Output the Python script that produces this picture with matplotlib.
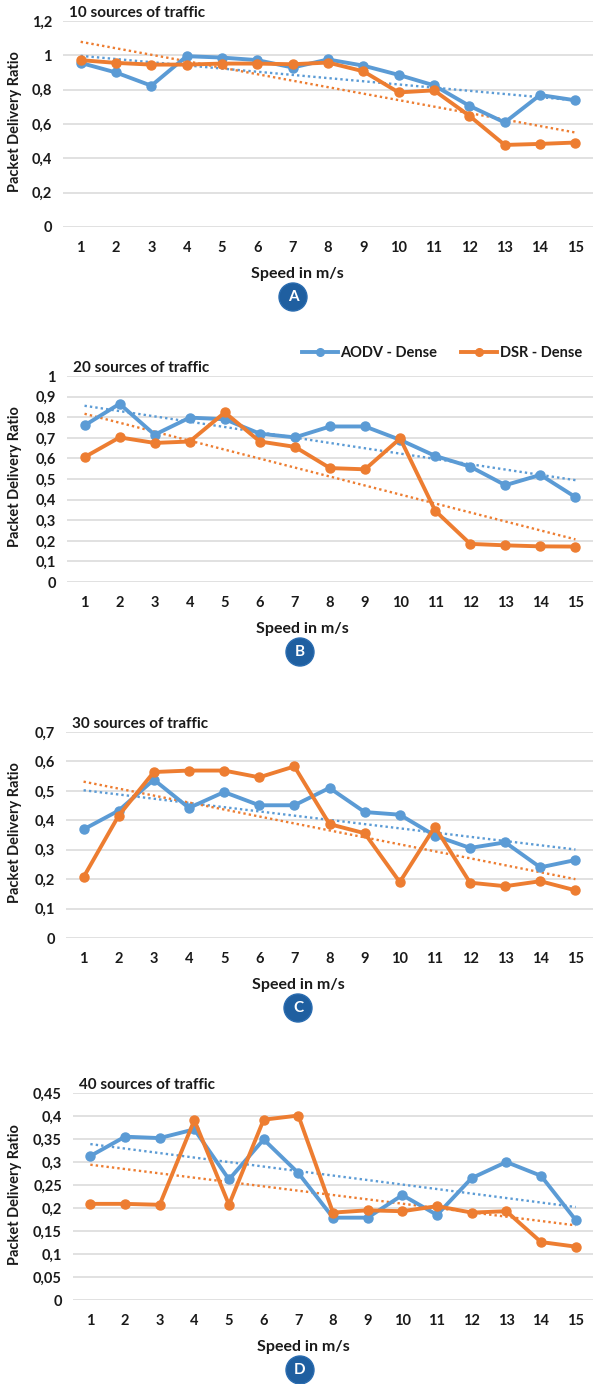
import matplotlib
matplotlib.use("Agg")
import matplotlib.pyplot as plt
from matplotlib.patches import Circle
from matplotlib.lines import Line2D
import numpy as np

plt.rcParams["font.family"] = ["Lato", "DejaVu Sans"]

speed = list(range(1, 16))

# packet delivery ratio, 10 / 20 / 30 / 40 traffic sources
aodv_10 = [0.956, 0.900, 0.823, 0.995, 0.987, 0.972, 0.929, 0.976, 0.940, 0.886, 0.825, 0.706, 0.609, 0.769, 0.738]
dsr_10 = [0.972, 0.956, 0.946, 0.946, 0.952, 0.952, 0.948, 0.958, 0.907, 0.784, 0.796, 0.648, 0.478, 0.484, 0.492]

aodv_20 = [0.760, 0.865, 0.715, 0.798, 0.790, 0.720, 0.702, 0.755, 0.755, 0.690, 0.612, 0.560, 0.470, 0.520, 0.412]
dsr_20 = [0.606, 0.702, 0.675, 0.682, 0.823, 0.682, 0.656, 0.553, 0.547, 0.697, 0.346, 0.185, 0.178, 0.173, 0.172]

aodv_30 = [0.369, 0.433, 0.538, 0.442, 0.496, 0.451, 0.451, 0.510, 0.428, 0.419, 0.348, 0.306, 0.325, 0.240, 0.265]
dsr_30 = [0.207, 0.416, 0.564, 0.569, 0.569, 0.546, 0.583, 0.387, 0.356, 0.190, 0.378, 0.188, 0.176, 0.193, 0.162]

aodv_40 = [0.313, 0.355, 0.352, 0.371, 0.262, 0.349, 0.276, 0.179, 0.179, 0.228, 0.185, 0.265, 0.300, 0.270, 0.174]
dsr_40 = [0.209, 0.209, 0.207, 0.391, 0.207, 0.392, 0.401, 0.190, 0.195, 0.193, 0.204, 0.190, 0.193, 0.126, 0.116]

titles = ["10 sources of traffic", "20 sources of traffic", "30 sources of traffic", "40 sources of traffic"]
letters = ["A", "B", "C", "D"]
y_max = [1.2, 1.0, 0.7, 0.45]
y_step = [0.2, 0.1, 0.1, 0.05]

BLUE = "#5B9BD5"
ORANGE = "#ED7D31"
TXT = "#1a1a1a"

W, H = 593, 1384
fig = plt.figure(figsize=(W / 100, H / 100), dpi=100)

# axes boxes in pixels: left, top, bottom
boxes = [(63, 21, 227), (67, 376, 582), (66, 732, 938), (73, 1093, 1300)]
badge_x = [293, 300, 298, 300]
label_x = [297, 302, 298, 303]

panels = [(aodv_10, dsr_10), (aodv_20, dsr_20), (aodv_30, dsr_30), (aodv_40, dsr_40)]

x = np.array(speed)
for i, (aodv, dsr) in enumerate(panels):
    left, top, bottom = boxes[i]
    ax = fig.add_axes([left / W, 1 - bottom / H, (W - left) / W, (bottom - top) / H])

    for ys, col in [(aodv, BLUE), (dsr, ORANGE)]:
        k, b = np.polyfit(x, ys, 1)
        ax.plot(x, k * x + b, ls=(0, (1, 1.3)), lw=1.7, color=col, zorder=2)
    ax.plot(x, aodv, color=BLUE, lw=2.8, marker="o", ms=6.5, zorder=3)
    ax.plot(x, dsr, color=ORANGE, lw=2.8, marker="o", ms=6.5, zorder=4)

    ax.set_xlim(0.5, 15.5)
    ax.set_ylim(0, y_max[i])
    ticks = np.round(np.arange(0, y_max[i] + 1e-9, y_step[i]), 2)
    ax.set_yticks(ticks)
    ax.set_yticklabels([f"{t:g}".replace(".", ",") for t in ticks])
    ax.set_xticks(x)
    ax.set_xticklabels([str(v) for v in speed])
    ax.grid(axis="y", color="#d9d9d9", lw=1.1)
    ax.set_axisbelow(True)
    for s in ax.spines.values():
        s.set_visible(False)
    ax.tick_params(axis="both", length=0, labelsize=10.5, colors=TXT)
    ax.tick_params(axis="y", pad=8)
    ax.tick_params(axis="x", pad=10)
    for lab in ax.get_xticklabels() + ax.get_yticklabels():
        lab.set_fontweight("bold")

    # chart title, y-axis and x-axis titles
    fig.text((left + 6) / W, 1 - (top - 8) / H, titles[i], fontsize=11,
             fontweight="bold", color=TXT, ha="left", va="center")
    fig.text(15 / W, 1 - ((top + bottom) / 2 - 2) / H, "Packet Delivery Ratio",
             rotation=90, fontsize=10.5, fontweight="bold", color=TXT, ha="center", va="center")
    fig.text(label_x[i] / W, 1 - (bottom + 47) / H, "Speed in m/s", fontsize=11.5,
             fontweight="bold", color=TXT, ha="center", va="center")

    # lettered badge under each panel
    cx, cy = badge_x[i] / 100, (H - (bottom + 70)) / 100
    fig.add_artist(Circle((cx, cy), 0.14, transform=fig.dpi_scale_trans,
                          facecolor="#1F5FA0", edgecolor="#2a6cb0", lw=1))
    fig.text(cx * 100 / W, cy * 100 / H, letters[i], fontsize=11, fontweight="bold",
             color="white", ha="center", va="center")

    if i == 1:
        handles = [Line2D([], [], color=BLUE, lw=2.8, marker="o", ms=5.5),
                   Line2D([], [], color=ORANGE, lw=2.8, marker="o", ms=5.5)]
        ax.legend(handles, ["AODV - Dense", "DSR - Dense"], ncol=2, frameon=False,
                  loc="center right", bbox_to_anchor=(592 / W, 1 - 353 / H),
                  bbox_transform=fig.transFigure, prop={"size": 10.5, "weight": "bold"},
                  handlelength=2.5, handletextpad=0.15, columnspacing=1.6,
                  labelcolor=TXT, borderpad=0.2)

fig.savefig("out.png", dpi=100)
